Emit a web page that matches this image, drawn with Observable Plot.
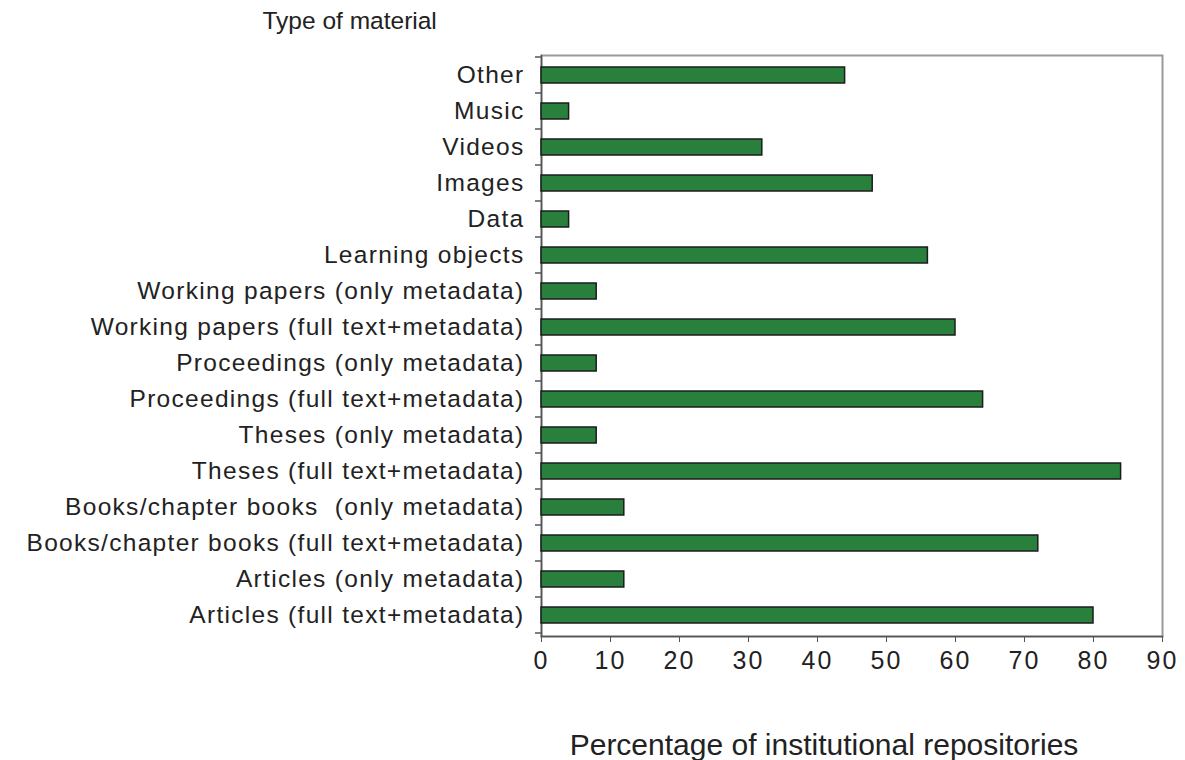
<!DOCTYPE html>
<html>
<head>
<meta charset="utf-8">
<script src="https://cdn.jsdelivr.net/npm/d3@7"></script>
<script src="https://cdn.jsdelivr.net/npm/@observablehq/plot@0.6"></script>
<style>
  html, body { margin: 0; padding: 0; background: #fff; }
  #chart { width: 1185px; height: 760px; }
  svg { font-family: "Liberation Sans", Arial, sans-serif; }
  svg g.ylab text { font-size: 24.5px; letter-spacing: 1.3px; }
  svg g.xlab text { font-size: 25px; letter-spacing: 2px; }
</style>
</head>
<body>
<div id="chart"></div>
<script>
// Categories, top to bottom as in the reference
const categories = [
  "Other",
  "Music",
  "Videos",
  "Images",
  "Data",
  "Learning objects",
  "Working papers (only metadata)",
  "Working papers (full text+metadata)",
  "Proceedings (only metadata)",
  "Proceedings (full text+metadata)",
  "Theses (only metadata)",
  "Theses (full text+metadata)",
  "Books/chapter books  (only metadata)",
  "Books/chapter books (full text+metadata)",
  "Articles (only metadata)",
  "Articles (full text+metadata)"
];
const values = [44, 4, 32, 48, 4, 56, 8, 60, 8, 64, 8, 84, 12, 72, 12, 80];
const xTicks = [0, 10, 20, 30, 40, 50, 60, 70, 80, 90];
const titleText = "Type of material";
const xLabel = "Percentage of institutional repositories";

const data = categories.map((c, i) => ({category: c, value: values[i]}));

// boundary tick marks on the band axis, drawn through the y scale
const bandTicks = (index, scales, values, dims) => {
  const g = d3.create("svg:g");
  const y = scales.y;
  const x0 = dims.marginLeft;
  const step = y.step();
  const starts = categories.map(c => y(c) - (step - y.bandwidth()) / 2);
  starts.push(starts[starts.length - 1] + step);
  for (const p of starts) {
    g.append("line")
      .attr("x1", x0 - 6).attr("x2", x0)
      .attr("y1", p).attr("y2", p)
      .attr("stroke", "#555").attr("stroke-width", 1.5);
  }
  return g.node();
};

const chart = Plot.plot({
  width: 1185,
  height: 760,
  marginLeft: 541,
  marginRight: 23,
  marginTop: 55,
  marginBottom: 124,
  style: {fontFamily: "Liberation Sans, Arial, sans-serif", background: "#fff"},
  x: {domain: [0, 90], ticks: xTicks, label: null},
  y: {domain: categories, paddingInner: 0.55, paddingOuter: 0.275, label: null},
  marks: [
    Plot.frame({stroke: "#9a9a9a", strokeWidth: 2}),
    Plot.frame({anchor: "left", stroke: "#555", strokeWidth: 1.5}),
    Plot.frame({anchor: "bottom", stroke: "#555", strokeWidth: 1.5}),
    Plot.barX(data, {x: "value", y: "category", fill: "#28803c", stroke: "#1c1c1c", strokeWidth: 1.5}),
    bandTicks,
    Plot.axisX({ticks: xTicks, tickSize: 6, tickPadding: 9, fontSize: 25, stroke: "#555", fill: "#222", label: null, className: "xlab"}),
    Plot.axisY({tickSize: 0, tickPadding: 17, fontSize: 24.5, fill: "#222", label: null, className: "ylab"}),
    Plot.text([titleText], {frameAnchor: "top-left", lineAnchor: "top", dx: -279, dy: -44, fontSize: 24.5, fill: "#222", textAnchor: "start"}),
    Plot.text([xLabel], {frameAnchor: "bottom", lineAnchor: "bottom", dx: -28, dy: 118, fontSize: 30, fill: "#222"})
  ]
});
document.getElementById("chart").appendChild(chart);
</script>
</body>
</html>
